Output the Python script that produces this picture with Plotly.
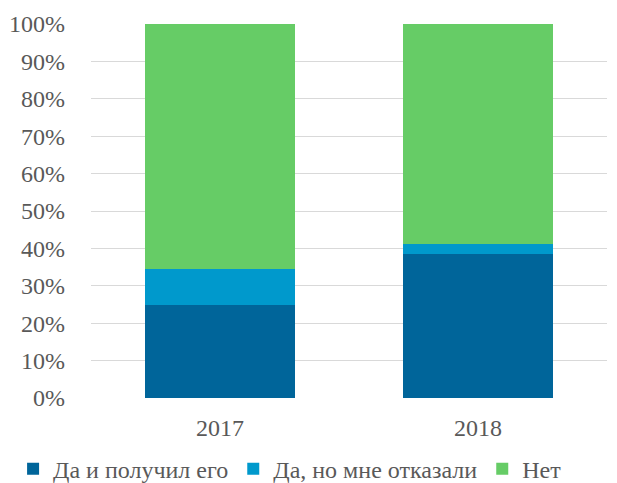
import plotly.graph_objects as go

years = ["2017", "2018"]
got_it = [24.8, 38.5]
refused = [9.6, 2.8]
no = [65.6, 58.7]
y_ticks = [0, 10, 20, 30, 40, 50, 60, 70, 80, 90, 100]
y_tick_labels = [f"{v}%" for v in y_ticks]

font = "'Liberation Serif', 'Times New Roman', Times, serif"

fig = go.Figure()
fig.add_bar(x=years, y=got_it, name="Да и получил его", marker_color="#00659A", marker_line_width=0)
fig.add_bar(x=years, y=refused, name="Да, но мне отказали", marker_color="#0099CC", marker_line_width=0)
fig.add_bar(x=years, y=no, name="Нет", marker_color="#66CC66", marker_line_width=0)

fig.update_layout(
    barmode="stack",
    bargap=0.415,
    width=609, height=475,
    margin=dict(l=83, r=10, t=16, b=85, autoexpand=False),
    plot_bgcolor="white", paper_bgcolor="white",
    font=dict(family=font, size=24, color="#595959"),
    showlegend=True,
    legend=dict(orientation="h", x=-0.151, xanchor="left", y=-0.13, yanchor="top",
                font=dict(family=font, size=24, color="#595959"),
                itemwidth=30, traceorder="normal", bgcolor="rgba(0,0,0,0)"),
)
fig.update_xaxes(showgrid=False, showline=False, ticks="", ticklabelstandoff=13,
                 tickfont=dict(family=font, size=24, color="#595959"))
fig.update_yaxes(range=[0, 100], tickvals=y_ticks, ticktext=y_tick_labels,
                 showgrid=True, gridcolor="#D9D9D9", gridwidth=1,
                 zeroline=False, showline=False, ticks="", ticklabelstandoff=25,
                 tickfont=dict(family=font, size=24, color="#595959"))

fig.write_html("out.html")
